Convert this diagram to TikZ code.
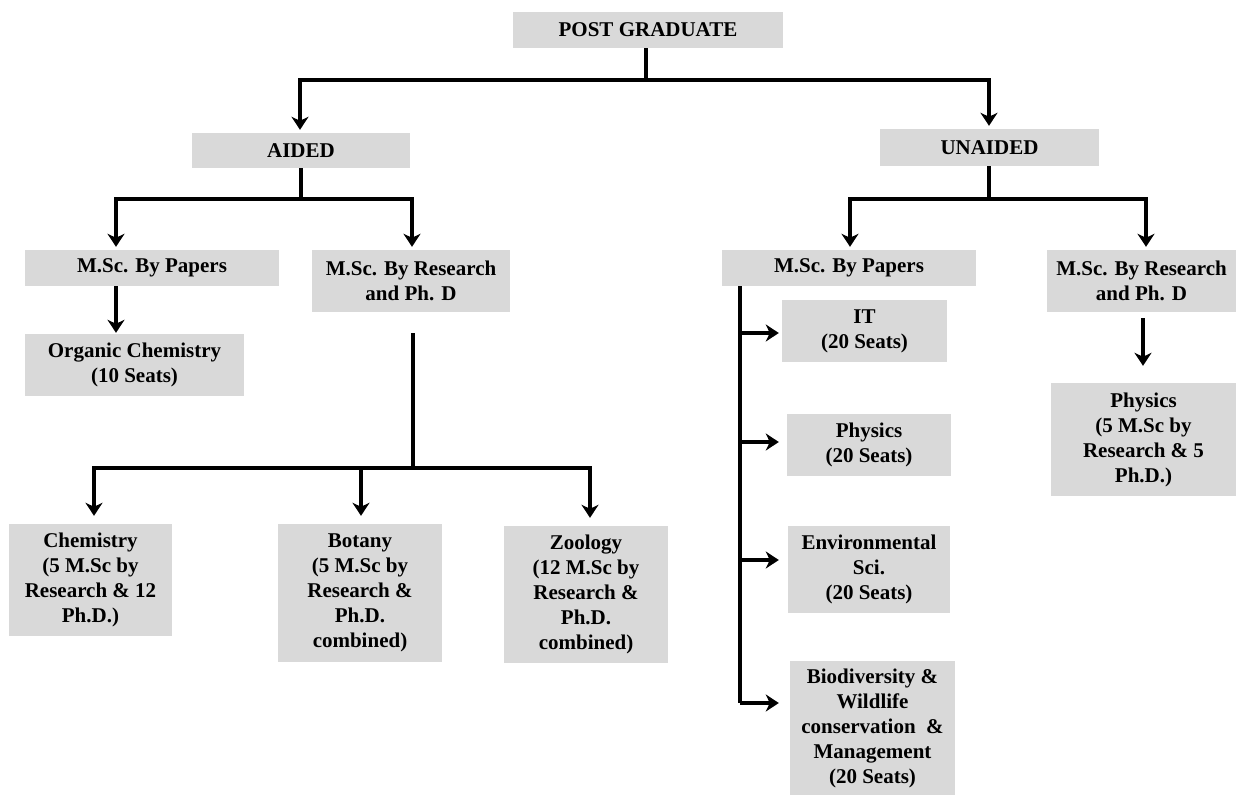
\documentclass[tikz,border=0pt]{standalone}
\usepackage{fontspec}
\setmainfont{Liberation Serif}
\usetikzlibrary{arrows.meta}
\definecolor{boxgray}{HTML}{D9D9D9}
\begin{document}
\begin{tikzpicture}[x=1pt,y=-1pt,
  box/.style={fill=boxgray,inner sep=0pt,align=center,
    font=\fontsize{21}{25}\selectfont\bfseries},
  mbox/.style={box,execute at begin node={\rule{0pt}{24pt}}},
  ln/.style={line width=4pt,line join=miter},
  arr/.style={ln,-{Stealth[length=13pt,width=17pt,inset=4pt]}}]
\useasboundingbox (0,0) rectangle (1236,795);
% nodes
\node[box,minimum width=270pt,minimum height=36pt] (pg) at (648,30) {POST GRADUATE};
\node[box,minimum width=218pt,minimum height=35pt] (aided) at (301,150.5) {AIDED};
\node[box,minimum width=219pt,minimum height=37pt] (unaided) at (989.5,147.5) {UNAIDED};
\node[box,minimum width=254pt,minimum height=36pt] (lpap) at (152,268) {M.Sc. By Papers};
\node[mbox,minimum width=198pt,minimum height=62pt] (lres) at (411,281) {M.Sc. By Research\\and Ph. D};
\node[mbox,minimum width=219pt,minimum height=62pt] (org) at (134.5,365) {Organic Chemistry\\(10 Seats)};
\node[mbox,minimum width=163pt,minimum height=112pt] (chem) at (90.5,580) {Chemistry\\(5 M.Sc by\\Research \& 12\\Ph.D.)};
\node[mbox,minimum width=164pt,minimum height=138pt] (bot) at (360,593) {Botany\\(5 M.Sc by\\Research \&\\Ph.D.\\combined)};
\node[mbox,minimum width=164pt,minimum height=137pt] (zoo) at (586,594.5) {Zoology\\(12 M.Sc by\\Research \&\\Ph.D.\\combined)};
\node[box,minimum width=254pt,minimum height=36pt] (rpap) at (849,268) {M.Sc. By Papers};
\node[mbox,minimum width=189pt,minimum height=62pt] (rres) at (1141.5,281) {M.Sc. By Research\\and Ph. D};
\node[mbox,minimum width=185pt,minimum height=113pt] (rphy) at (1143.5,439.5) {Physics\\(5 M.Sc by\\Research \& 5\\Ph.D.)};
\node[mbox,minimum width=165pt,minimum height=62pt] (it) at (864.5,331) {IT\\(20 Seats)};
\node[mbox,minimum width=164pt,minimum height=62pt] (phy) at (869,445) {Physics\\(20 Seats)};
\node[mbox,minimum width=162pt,minimum height=87pt] (env) at (869,569.5) {Environmental\\Sci.\\(20 Seats)};
\node[mbox,minimum width=165pt,minimum height=134pt] (bio) at (872.5,728) {Biodiversity \&\\Wildlife\\conservation~ \&\\Management\\(20 Seats)};
% junction coordinates
\coordinate (t) at (646,80);
\coordinate (tl) at (300,80);
\coordinate (tr) at (989,80);
\coordinate (ab) at (301,199);
\coordinate (abl) at (116,199);
\coordinate (abr) at (412,199);
\coordinate (ub) at (989,199);
\coordinate (ubl) at (850,199);
\coordinate (ubr) at (1146,199);
\coordinate (rt) at (413,333);
\coordinate (rb) at (413,468);
\coordinate (cb1) at (94,468);
\coordinate (cb2) at (361,468);
\coordinate (cb3) at (590,468);
\coordinate (px) at (1143,0);
\coordinate (sx) at (740,0);
\coordinate (s1) at (740,333);
\coordinate (s2) at (740,442);
\coordinate (s3) at (740,560);
\coordinate (s4) at (740,703);
% connectors
\draw[ln] (pg.south -| t) -- (t);
\draw[arr,shorten >=3pt] (t) -- (tl) -- (tl |- aided.north);
\draw[arr,shorten >=3pt] (t) -- (tr) -- (tr |- unaided.north);
\draw[ln] (aided.south -| ab) -- (ab);
\draw[arr,shorten >=3pt] (ab) -- (abl) -- (abl |- lpap.north);
\draw[arr,shorten >=3pt] (ab) -- (abr) -- (abr |- lres.north);
\draw[arr,shorten >=1pt] (abl |- lpap.south) -- (abl |- org.north);
\draw[ln,shorten <=21pt] (rt |- lres.south) -- (rb);
\draw[arr,shorten >=8pt] (rb) -- (cb1) -- (cb1 |- chem.north);
\draw[arr,shorten >=8pt] (rb) -- (cb3) -- (cb3 |- zoo.north);
\draw[arr,shorten >=8pt] (cb2) -- (cb2 |- bot.north);
\draw[ln] (unaided.south -| ub) -- (ub);
\draw[arr,shorten >=3pt] (ub) -- (ubl) -- (ubl |- rpap.north);
\draw[arr,shorten >=3pt] (ub) -- (ubr) -- (ubr |- rres.north);
\draw[arr,shorten <=6pt,shorten >=17pt] (rres.south -| px) -- (rphy.north -| px);
\draw[ln] (rpap.south -| sx) -- (s4);
\draw[arr,shorten >=3pt] (s1) -- (s1 -| it.west);
\draw[arr,shorten >=8pt] (s2) -- (s2 -| phy.west);
\draw[arr,shorten >=9pt] (s3) -- (s3 -| env.west);
\draw[arr,shorten >=11pt] (s4) -- (s4 -| bio.west);
\end{tikzpicture}
\end{document}
